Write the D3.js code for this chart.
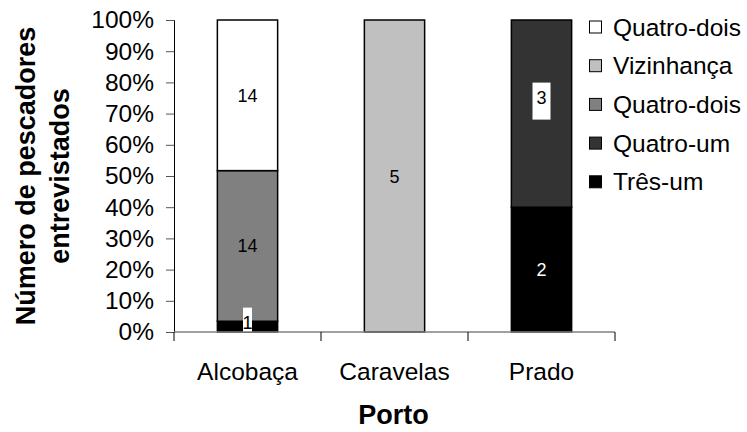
<!DOCTYPE html>
<html>
<head>
<meta charset="utf-8">
<script src="https://cdn.jsdelivr.net/npm/d3@7"></script>
<style>
  html, body { margin: 0; padding: 0; background: #fff; }
  svg { display: block; font-family: "Liberation Sans", Arial, sans-serif; }
</style>
</head>
<body>
<svg id="chart" width="747" height="432"></svg>
<script>
// Ports surveyed and number of interviewed fishers per fishing-ground type
const ports = ["Alcobaça", "Caravelas", "Prado"];
// Stack order, bottom to top
const seriesNames = ["Três-um", "Quatro-um", "Quatro-dois", "Vizinhança", "Quatro-dois"];
const seriesColors = ["#000000", "#333333", "#808080", "#c0c0c0", "#ffffff"];
const tresUm      = [1, 0, 2];
const quatroUm    = [0, 0, 3];
const quatroDois  = [14, 0, 0];
const vizinhanca  = [0, 5, 0];
const quatroDois2 = [14, 0, 0];
const yTicks = [0, 0.1, 0.2, 0.3, 0.4, 0.5, 0.6, 0.7, 0.8, 0.9, 1];

const seriesValues = [tresUm, quatroUm, quatroDois, vizinhanca, quatroDois2];

const svg = d3.select("#chart");
const margin = { left: 174, right: 132, top: 20, bottom: 100 };
const W = 747, H = 432;
const plotW = W - margin.left - margin.right;
const plotH = H - margin.top - margin.bottom;

const x = d3.scaleBand().domain(ports).range([margin.left, margin.left + plotW]).paddingInner(0.59).paddingOuter(0.295);
const xb = d3.scaleBand().domain(ports).range([margin.left, margin.left + plotW]);
const y = d3.scaleLinear().domain([0, 1]).range([margin.top + plotH, margin.top]);

// Build rows keyed by series index, then normalise to percentages
const keys = seriesNames.map((_, i) => "s" + i);
const rows = ports.map((p, j) => {
  const r = { port: p };
  let total = 0;
  keys.forEach((k, i) => { r[k] = seriesValues[i][j]; total += seriesValues[i][j]; });
  r.total = total;
  return r;
});
const stacked = d3.stack().keys(keys)
  .value((d, k) => d[k] / d.total)(rows);

// Clip region for the plot area
svg.append("clipPath").attr("id", "plotClip")
  .append("rect").attr("x", margin.left).attr("y", margin.top)
  .attr("width", plotW).attr("height", plotH);

// Bars
const layer = svg.append("g");
stacked.forEach((s, i) => {
  layer.selectAll(null).data(s.filter(d => d[1] - d[0] > 0)).enter()
    .append("rect")
    .attr("x", d => x(d.data.port))
    .attr("width", x.bandwidth())
    .attr("y", d => y(d[1]))
    .attr("height", d => y(d[0]) - y(d[1]))
    .attr("fill", seriesColors[i])
    .attr("stroke", "#000")
    .attr("stroke-width", 1.5);
});

// Value labels
const labelNudge = { "Prado|s1": -16, "Alcobaça|s0": -4 };
const boxWidth = { "Prado|s1": 18, "Alcobaça|s0": 9 };
const whiteText = { "Prado|s0": true };
const labels = svg.append("g").attr("clip-path", "url(#plotClip)")
  .attr("font-size", 18).attr("text-anchor", "middle");
stacked.forEach((s, i) => {
  s.forEach(d => {
    const v = d.data[keys[i]];
    if (!v) return;
    const id = d.data.port + "|" + keys[i];
    const cx = x(d.data.port) + x.bandwidth() / 2;
    const cy = (y(d[0]) + y(d[1])) / 2 + (labelNudge[id] || 0);
    if (boxWidth[id]) {
      const bw = boxWidth[id];
      labels.append("rect")
        .attr("x", cx - bw / 2).attr("width", bw)
        .attr("y", cy - 15).attr("height", 37)
        .attr("fill", "#fff");
    }
    labels.append("text")
      .attr("x", cx).attr("y", cy + 6.5)
      .attr("fill", whiteText[id] ? "#fff" : "#000")
      .text(v);
  });
});

// Y axis
const yAxis = svg.append("g").attr("transform", `translate(${margin.left},0)`)
  .call(d3.axisLeft(y).tickValues(yTicks).tickFormat(d3.format(".0%")).tickSize(8).tickPadding(12));
yAxis.select(".domain").attr("stroke", "#000").attr("stroke-width", 1);
yAxis.selectAll(".tick line").attr("stroke", "#555");
yAxis.selectAll(".tick text").attr("font-size", 24.5).attr("fill", "#000")
  .attr("font-family", "Liberation Sans, Arial, sans-serif");

// X axis
const xAxis = svg.append("g").attr("transform", `translate(0,${margin.top + plotH})`);
xAxis.append("line")
  .attr("x1", margin.left).attr("x2", margin.left + plotW)
  .attr("stroke", "#808080").attr("stroke-width", 1.5);
const bounds = ports.map(p => xb(p)).concat([margin.left + plotW]);
xAxis.selectAll(".sep").data(bounds).enter().append("line")
  .attr("x1", d => d).attr("x2", d => d).attr("y1", 0).attr("y2", 9)
  .attr("stroke", "#000");
xAxis.selectAll(".cat").data(ports).enter().append("text")
  .attr("x", d => xb(d) + xb.bandwidth() / 2)
  .attr("y", 48)
  .attr("text-anchor", "middle").attr("font-size", 24.5)
  .text(d => d);

// Axis titles
svg.append("text")
  .attr("x", margin.left + plotW / 2 - 1).attr("y", 424)
  .attr("text-anchor", "middle").attr("font-size", 27).attr("font-weight", "bold")
  .text("Porto");
const yt = svg.append("text")
  .attr("transform", `translate(0,${margin.top + plotH / 2}) rotate(-90)`)
  .attr("text-anchor", "middle").attr("font-size", 27).attr("font-weight", "bold");
yt.append("tspan").attr("x", 0).attr("y", 35).text("Número de pescadores");
yt.append("tspan").attr("x", 0).attr("y", 69).text("entrevistados");

// Legend, listed top of stack first
const legendOrder = d3.range(seriesNames.length).reverse();
const legend = svg.append("g");
legendOrder.forEach((i, r) => {
  const cy = 27 + r * 38.7;
  legend.append("rect")
    .attr("x", 589.5).attr("y", cy - 6).attr("width", 12).attr("height", 12)
    .attr("fill", seriesColors[i]).attr("stroke", "#000").attr("stroke-width", 1);
  legend.append("text")
    .attr("x", 613).attr("y", cy + 8.5)
    .attr("font-size", 24.5)
    .text(seriesNames[i]);
});
</script>
</body>
</html>
